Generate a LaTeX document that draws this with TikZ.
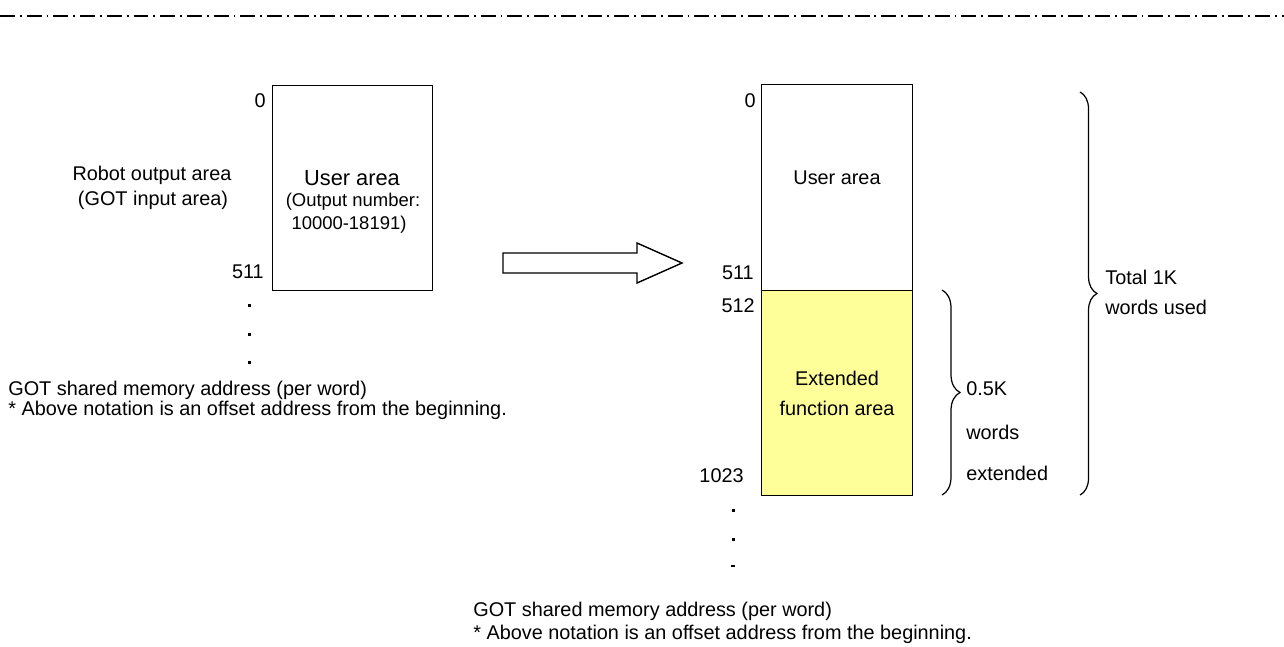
\documentclass[tikz,border=0pt]{standalone}
\usepackage{fontspec}
\setmainfont{Liberation Sans}
\usetikzlibrary{decorations.pathreplacing}
\definecolor{extyellow}{HTML}{FFFF99}
\tikzset{
  membox/.style={draw,line width=0.8pt,inner sep=0pt,anchor=north west},
  lbl/.style={inner sep=0pt,font=\fontsize{11.3}{13}\selectfont},
  biglbl/.style={inner sep=0pt,font=\fontsize{12.4}{14}\selectfont},
  smalllbl/.style={inner sep=0pt,font=\fontsize{10.5}{12}\selectfont},
  dotmark/.style={fill,inner sep=0pt,minimum size=0.06cm},
  curly/.style={decorate,decoration={brace,amplitude=#1},line width=0.7pt},
  dashdot line/.style={line width=1.4pt,dash pattern=on 8.5pt off 2.8pt on 1.1pt off 2.8pt}
}
\begin{document}
\begin{tikzpicture}[x=0.02cm,y=-0.02cm]
    \useasboundingbox (0,0) rectangle (1284,646);
    \draw [dashdot line] (0,16) -- (1284,16);

    % before
    \node[membox,minimum width=3.2cm,minimum height=4.1cm] (userL) at (272,85) {};
    \node[lbl,anchor=base east] (adrL0) at (266,107) {0};
    \node[lbl,anchor=base east] (adrL511) at (264,278) {511};
    \foreach \y [count=\i] in {305,334,362}
        \node[dotmark] (dotL\i) at (249,\y) {};
    \node[lbl,anchor=base] (robot) at (152,180) {Robot output area};
    \node[lbl,anchor=base] (gotin) at (153,205) {(GOT input area)};
    \node[biglbl,anchor=base] (userLtxt) at (352,185) {User area};
    \node[smalllbl,anchor=base] (outnum) at (353,206) {(Output number:};
    \node[smalllbl,anchor=base] (outrange) at (349,229) {10000-18191)};
    \node[lbl,anchor=base west] (noteL1) at (8,395) {GOT shared memory address (per word)};
    \node[lbl,anchor=base west] (noteL2) at (8,415) {* Above notation is an offset address from the beginning.};

    \draw [line width=0.8pt,fill=white] (503,253) -- (637,253) -- (637,243) -- (682,263)
        -- (637,283) -- (637,273) -- (503,273) -- cycle;

    % after
    \node[membox,minimum width=3.02cm,minimum height=4.12cm] (userR) at (761,84) {};
    \node[membox,fill=extyellow,minimum width=3.02cm,minimum height=4.1cm] (extR) at (761,290) {};
    \node[lbl,anchor=base east] (adrR0) at (756,107) {0};
    \node[lbl,anchor=base east] (adrR511) at (754,279) {511};
    \node[lbl,anchor=base east] (adrR512) at (755,312) {512};
    \node[lbl,anchor=base east] (adrR1023) at (744,482) {1023};
    \node[lbl,anchor=base] (userRtxt) at (837,184) {User area};
    \node[lbl,anchor=base] (ext1) at (837,385) {Extended};
    \node[lbl,anchor=base] (ext2) at (837,415) {function area};
    \foreach \y [count=\i] in {510,539}
        \node[dotmark] (dotR\i) at (733,\y) {};
    \draw [line width=0.6pt] (731,566) -- (735,566);

    \coordinate (smallT) at (942,290);
    \coordinate (smallB) at (942,495);
    \draw [curly=0.36cm] (smallT) -- (smallB);
    \node[lbl,anchor=base west] (half1) at (966,395) {0.5K};
    \node[lbl,anchor=base west] (half2) at (966,439) {words};
    \node[lbl,anchor=base west] (half3) at (966,480) {extended};

    \coordinate (bigT) at (1080,92);
    \coordinate (bigB) at (1080,495);
    \draw [curly=0.34cm] (bigT) -- (bigB);
    \node[lbl,anchor=base west] (total1) at (1105,284) {Total 1K};
    \node[lbl,anchor=base west] (total2) at (1105,314) {words used};

    \node[lbl,anchor=base west] (noteR1) at (473,616) {GOT shared memory address (per word)};
    \node[lbl,anchor=base west] (noteR2) at (473,639) {* Above notation is an offset address from the beginning.};
\end{tikzpicture}
\end{document}
